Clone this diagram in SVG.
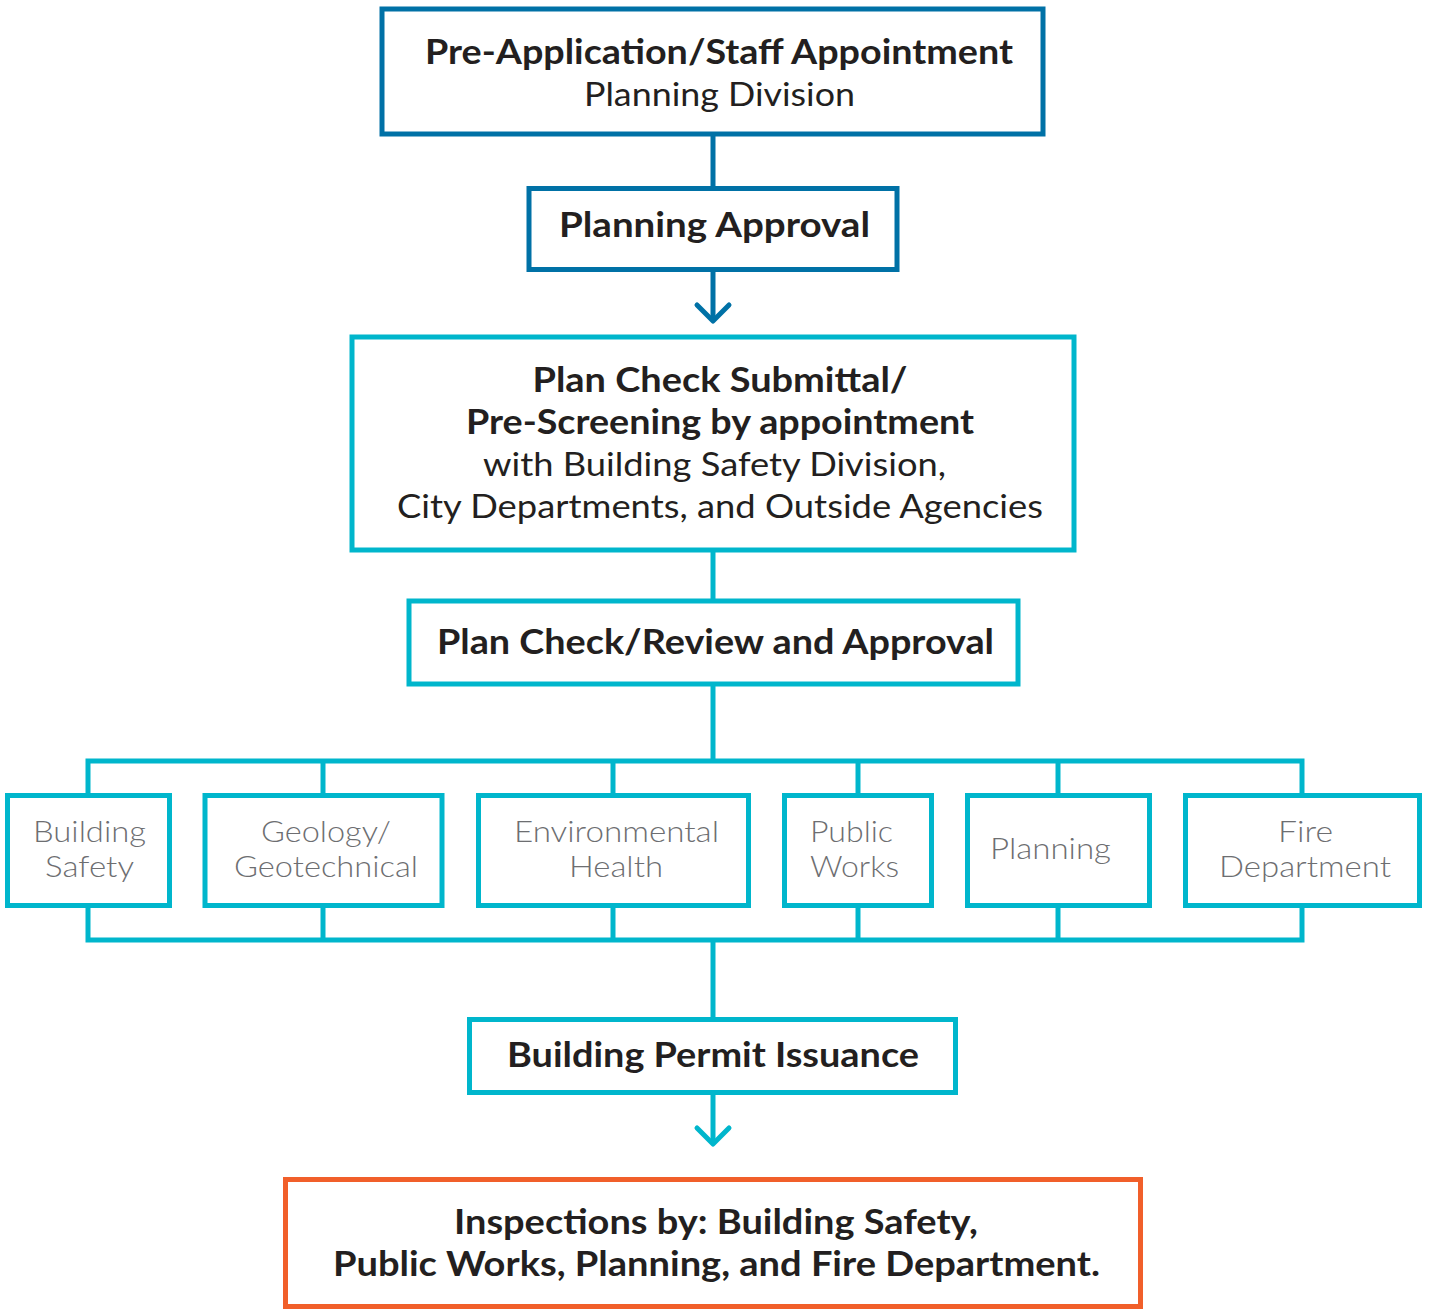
<svg xmlns="http://www.w3.org/2000/svg" width="1429" height="1309" viewBox="0 0 1429 1309">
<style>
.bx{fill:#fff;stroke-width:5}
.blue{stroke:#0071a6}
.teal{stroke:#00b6cc}
.orange{stroke:#f15f2a}
.ln{fill:none;stroke-width:5;stroke-linecap:butt;stroke-linejoin:miter}
.ah{fill:none;stroke-width:5;stroke-linecap:round;stroke-linejoin:round}
text{font-family:Lato,"Open Sans","Liberation Sans",sans-serif;text-anchor:middle;fill:#231f20}
.b{font-size:34px;font-weight:700}
.r{font-size:33px;font-weight:400}
.l{font-size:29px;font-weight:300;fill:#6d6e71}
</style>
<rect width="1429" height="1309" fill="#fff"/>
<g id="connectors">
<line class="ln blue" x1="713" y1="134" x2="713" y2="188"/>
<line class="ln blue" x1="713" y1="270" x2="713" y2="320"/>
<polyline class="ah blue" points="697,305 713,321 729,305"/>
<line class="ln teal" x1="713" y1="550" x2="713" y2="601"/>
<line class="ln teal" x1="713" y1="684" x2="713" y2="761"/>
<polyline class="ln teal" points="88,795 88,761 1302,761 1302,795"/>
<line class="ln teal" x1="323" y1="761" x2="323" y2="795"/>
<line class="ln teal" x1="613" y1="761" x2="613" y2="795"/>
<line class="ln teal" x1="858" y1="761" x2="858" y2="795"/>
<line class="ln teal" x1="1058" y1="761" x2="1058" y2="795"/>
<polyline class="ln teal" points="88,906 88,940 1302,940 1302,906"/>
<line class="ln teal" x1="323" y1="906" x2="323" y2="940"/>
<line class="ln teal" x1="613" y1="906" x2="613" y2="940"/>
<line class="ln teal" x1="858" y1="906" x2="858" y2="940"/>
<line class="ln teal" x1="1058" y1="906" x2="1058" y2="940"/>
<line class="ln teal" x1="713" y1="940" x2="713" y2="1019"/>
<line class="ln teal" x1="713" y1="1093" x2="713" y2="1143"/>
<polyline class="ah teal" points="697,1128 713,1144 729,1128"/>
</g>
<g id="pre-application">
<rect class="bx blue" x="382" y="9" width="661" height="125"/>
<text class="b" x="719" y="64" textLength="588" lengthAdjust="spacingAndGlyphs">Pre-Application/Staff Appointment</text>
<text class="r" x="719.5" y="106" textLength="271" lengthAdjust="spacingAndGlyphs">Planning Division</text>
</g>
<g id="planning-approval">
<rect class="bx blue" x="529" y="188.5" width="368" height="81"/>
<text class="b" x="714.5" y="237" textLength="311" lengthAdjust="spacingAndGlyphs">Planning Approval</text>
</g>
<g id="plan-check-submittal">
<rect class="bx teal" x="352" y="337" width="722" height="213"/>
<text class="b" x="720" y="392" textLength="375" lengthAdjust="spacingAndGlyphs">Plan Check Submittal/</text>
<text class="b" x="720" y="434" textLength="508" lengthAdjust="spacingAndGlyphs">Pre-Screening by appointment</text>
<text class="r" x="714.5" y="476" textLength="463" lengthAdjust="spacingAndGlyphs">with Building Safety Division,</text>
<text class="r" x="720" y="518" textLength="646" lengthAdjust="spacingAndGlyphs">City Departments, and Outside Agencies</text>
</g>
<g id="plan-check-review">
<rect class="bx teal" x="409" y="601" width="609" height="83"/>
<text class="b" x="715.5" y="654" textLength="557" lengthAdjust="spacingAndGlyphs">Plan Check/Review and Approval</text>
</g>
<g id="building-safety">
<rect class="bx teal" x="7.5" y="795.5" width="162" height="110"/>
<text class="l" x="89.5" y="842" textLength="113" lengthAdjust="spacingAndGlyphs">Building</text>
<text class="l" x="89.5" y="877" textLength="89" lengthAdjust="spacingAndGlyphs">Safety</text>
</g>
<g id="geology">
<rect class="bx teal" x="205" y="795.5" width="237" height="110"/>
<text class="l" x="326" y="842" textLength="130" lengthAdjust="spacingAndGlyphs">Geology/</text>
<text class="l" x="326" y="877" textLength="184" lengthAdjust="spacingAndGlyphs">Geotechnical</text>
</g>
<g id="environmental-health">
<rect class="bx teal" x="478.5" y="795.5" width="270" height="110"/>
<text class="l" x="616.5" y="842" textLength="205" lengthAdjust="spacingAndGlyphs">Environmental</text>
<text class="l" x="616" y="877" textLength="94" lengthAdjust="spacingAndGlyphs">Health</text>
</g>
<g id="public-works">
<rect class="bx teal" x="784.5" y="795.5" width="147" height="110"/>
<text class="l" x="851.5" y="842" textLength="83" lengthAdjust="spacingAndGlyphs">Public</text>
<text class="l" x="854.5" y="877" textLength="89" lengthAdjust="spacingAndGlyphs">Works</text>
</g>
<g id="planning">
<rect class="bx teal" x="967.5" y="795.5" width="182" height="110"/>
<text class="l" x="1050.5" y="859" textLength="121" lengthAdjust="spacingAndGlyphs">Planning</text>
</g>
<g id="fire-department">
<rect class="bx teal" x="1185.5" y="795.5" width="234" height="110"/>
<text class="l" x="1305.5" y="842" textLength="55" lengthAdjust="spacingAndGlyphs">Fire</text>
<text class="l" x="1305" y="877" textLength="172" lengthAdjust="spacingAndGlyphs">Department</text>
</g>
<g id="building-permit">
<rect class="bx teal" x="469.5" y="1019.5" width="486" height="73"/>
<text class="b" x="713" y="1067" textLength="412" lengthAdjust="spacingAndGlyphs">Building Permit Issuance</text>
</g>
<g id="inspections">
<rect class="bx orange" x="285.5" y="1179.5" width="855" height="127"/>
<text class="b" x="716" y="1234" textLength="524" lengthAdjust="spacingAndGlyphs">Inspections by: Building Safety,</text>
<text class="b" x="716.5" y="1276" textLength="767" lengthAdjust="spacingAndGlyphs">Public Works, Planning, and Fire Department.</text>
</g>
</svg>
